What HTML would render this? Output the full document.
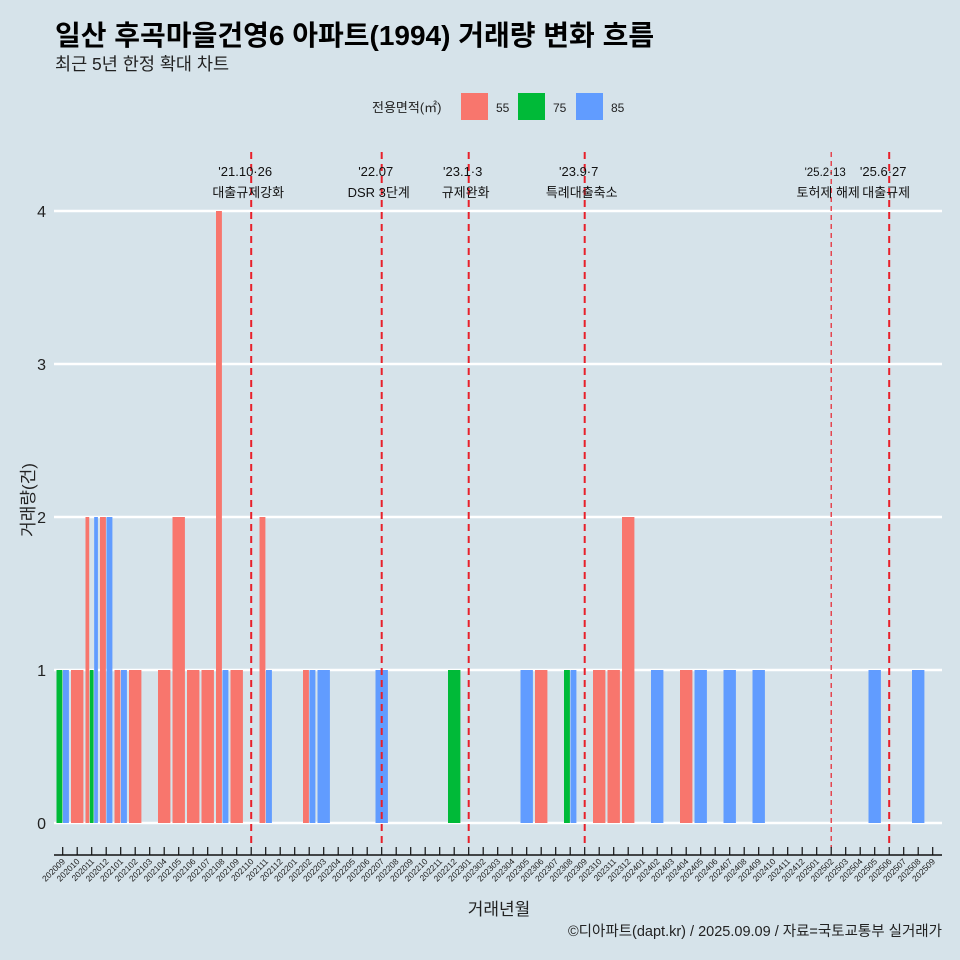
<!DOCTYPE html>
<html><head><meta charset="utf-8"><style>
html,body{margin:0;padding:0;background:#d6e3ea;}
svg{display:block;font-family:"Liberation Sans","Noto Sans CJK KR",sans-serif;}
</style></head><body>
<svg id="chart" width="960" height="960" viewBox="0 0 960 960">
<rect x="0" y="0" width="960" height="960" fill="#d6e3ea"/>
<text x="55" y="45" font-size="28" font-weight="bold" fill="#000">일산 후곡마을건영6 아파트(1994) 거래량 변화 흐름</text>
<text x="55" y="70" font-size="17.5" fill="#222">최근 5년 한정 확대 차트</text>
<g>
<text x="372" y="112" font-size="13" fill="#222">전용면적(㎡)</text>
<rect x="461" y="93" width="27" height="27" fill="#f8766d"/>
<text x="496" y="112" font-size="12" fill="#222">55</text>
<rect x="518" y="93" width="27" height="27" fill="#00ba38"/>
<text x="553" y="112" font-size="12" fill="#222">75</text>
<rect x="576" y="93" width="27" height="27" fill="#619cff"/>
<text x="611" y="112" font-size="12" fill="#222">85</text>
</g>
<g id="grid"></g><g id="bars"></g><g id="events"></g><g id="xaxis"></g><g id="yaxis"></g>
<text x="499" y="915" font-size="17" text-anchor="middle" fill="#222">거래년월</text>
<text transform="translate(34,500) rotate(-90)" font-size="17" text-anchor="middle" fill="#222">거래량(건)</text>
<text x="942" y="936" font-size="14.5" text-anchor="end" fill="#222">©디아파트(dapt.kr) / 2025.09.09 / 자료=국토교통부 실거래가</text>
</svg>
<script>
const months = ["202009","202010","202011","202012","202101","202102","202103","202104","202105","202106","202107","202108","202109","202110","202111","202112","202201","202202","202203","202204","202205","202206","202207","202208","202209","202210","202211","202212","202301","202302","202303","202304","202305","202306","202307","202308","202309","202310","202311","202312","202401","202402","202403","202404","202405","202406","202407","202408","202409","202410","202411","202412","202501","202502","202503","202504","202505","202506","202507","202508","202509"];
const sizes = ["55","75","85"];
const colors = {"55":"#f8766d","75":"#00ba38","85":"#619cff"};
const recMonth = ["202009","202009","202010","202011","202011","202011","202012","202012","202101","202101","202102","202104","202105","202106","202107","202108","202108","202109","202111","202111","202202","202202","202203","202207","202212","202305","202306","202308","202308","202310","202311","202312","202402","202404","202405","202407","202409","202505","202508"];
const recSize  = ["75","85","55","55","75","85","55","85","55","85","55","55","55","55","55","55","85","55","55","85","55","85","85","85","75","85","55","75","85","55","55","55","85","55","85","85","85","85","85"];
const recCount = [1,1,1,2,1,2,2,2,1,1,1,1,2,1,1,4,1,1,2,1,1,1,1,1,1,1,1,1,1,1,1,2,1,1,1,1,1,1,1];
const yTicks = [0,1,2,3,4];
const eventMonths = ["202110","202207","202301","202309","202502","202506"];
const eventDates = ["'21.10·26","'22.07","'23.1·3","'23.9·7","'25.2·13","'25.6·27"];
const eventNames = ["대출규제강화","DSR 3단계","규제완화","특례대출축소","토허제 해제","대출규제"];

const NS="http://www.w3.org/2000/svg";
const x0=62.7, step=14.5, y0=823, unit=153, barW=13;
const xs = m => x0 + months.indexOf(m)*step;
const ys = v => y0 - v*unit;
function mk(tag, attrs, parent){const e=document.createElementNS(NS,tag);for(const k in attrs)e.setAttribute(k,attrs[k]);parent.appendChild(e);return e;}
const grid=document.getElementById('grid'), bars=document.getElementById('bars'), ev=document.getElementById('events'), xa=document.getElementById('xaxis'), ya=document.getElementById('yaxis');

yTicks.forEach(t=>{
  const l=mk('line',{x1:54,x2:942,y1:ys(t),y2:ys(t),stroke:'#fff','stroke-width':2.5},grid);
  
  
  const tx=mk('text',{x:46,y:ys(t)+6,'font-size':16,'text-anchor':'end',fill:'#222'},ya);
  tx.textContent=t;
  
  
});

months.forEach(m=>{
  const idx=[];
  recMonth.forEach((mm,i)=>{if(mm===m)idx.push(i);});
  idx.sort((a,b)=>sizes.indexOf(recSize[a])-sizes.indexOf(recSize[b]));
  const n=idx.length; if(!n)return;
  const w=barW/n;
  idx.forEach((i,k)=>{
    const left=xs(m)-barW/2+k*w;
    const r=mk('rect',{x:left+0.3,y:ys(recCount[i]),width:w-0.6,height:recCount[i]*unit,fill:colors[recSize[i]]},bars);
    
    
  });
});

eventMonths.forEach((m,i)=>{
  const x=xs(m);
  const thin = i===4;
  const l=mk('line',{x1:x,x2:x,y1:152,y2:848,stroke:'#e8202a','stroke-width':thin?1.2:2,'stroke-dasharray':thin?'5,4':'7,5'},ev);
  
  
  const t1=mk('text',{x:x-6,y:176,'font-size':thin?11.5:13,'text-anchor':'middle',fill:'#111'},ev);
  t1.textContent=eventDates[i];
  
  
  const t2=mk('text',{x:x-3,y:197,'font-size':13,'text-anchor':'middle',fill:'#111'},ev);
  t2.textContent=eventNames[i];
  
  
});

const ax=mk('line',{x1:54,x2:942,y1:855,y2:855,stroke:'#111','stroke-width':1.5},xa);


months.forEach(m=>{
  const x=xs(m);
  const tk=mk('line',{x1:x,x2:x,y1:847,y2:855,stroke:'#111','stroke-width':1.2},xa);
  
  
  const t=mk('text',{transform:`translate(${x+3},862) rotate(-45)`,'font-size':8.5,'text-anchor':'end',fill:'#222'},xa);
  t.textContent=m;
  
  
});
</script>
</body></html>
